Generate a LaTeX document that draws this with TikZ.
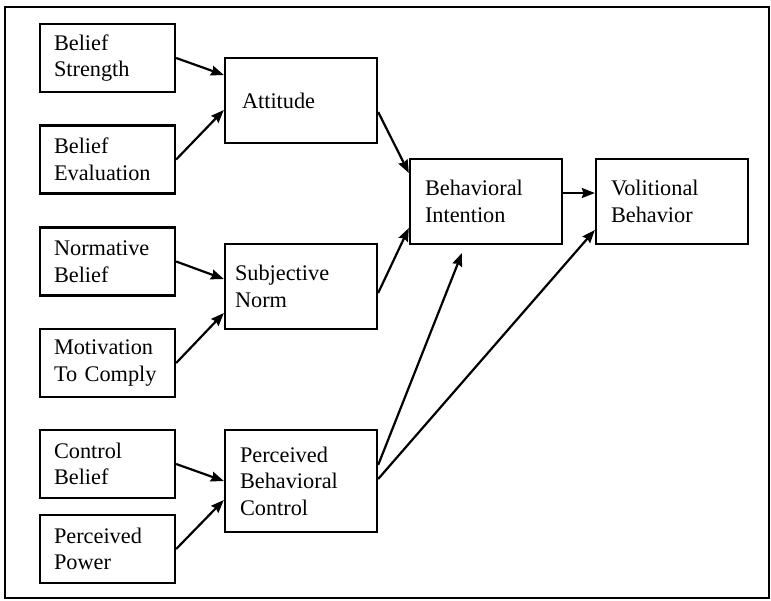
\documentclass[tikz,border=0pt]{standalone}
\usepackage{fontspec}
\setmainfont{Liberation Serif}
\usetikzlibrary{arrows.meta}
\begin{document}
\begin{tikzpicture}[x=1pt,y=-1pt,
  box/.style={draw, line width=2.3pt, align=left, inner xsep=14pt, inner ysep=0pt,
    font=\fontsize{22.3}{26.5}\selectfont},
  leftbox/.style={box, text width=107pt, minimum height=68pt},
  midbox/.style={box, text width=124pt},
  conn/.style={line width=2.2pt, -{Stealth[length=13pt,width=10pt,inset=1.5pt]}}]
  \useasboundingbox (0,0) rectangle (771,600);
  % outer frame
  \draw[line width=2.3pt] (5,7) rectangle (769,598);

  % antecedent boxes
  \node[leftbox] (bs) at (107.5,58)  {Belief\\Strength};
  \node[leftbox] (be) at (107.5,159.5) {Belief\\Evaluation};
  \node[leftbox] (nb) at (107.5,261.5) {Normative\\Belief};
  \node[leftbox] (mc) at (107.5,363) {Motivation\\To Comply};
  \node[leftbox] (cb) at (107.5,464) {Control\\Belief};
  \node[leftbox] (pp) at (107.5,549) {Perceived\\Power};

  % determinants
  \node[midbox, minimum height=85pt, inner xsep=17pt, text width=118pt] (att) at (301,100.5) {Attitude};
  \node[midbox, minimum height=85pt, inner xsep=10pt, text width=132pt] (sn) at (301,286.5) {Subjective\\Norm};
  \node[midbox, minimum height=102pt, inner xsep=15pt, text width=122pt] (pbc) at (301,481) {Perceived\\Behavioral\\Control};

  % intention and behaviour
  \node[midbox, minimum height=85pt, inner xsep=15pt, text width=122pt] (bi) at (486,201.5) {Behavioral\\Intention};
  \node[midbox, minimum height=85pt, inner xsep=15pt, text width=122pt] (vb) at (672,201.5) {Volitional\\Behavior};

  \coordinate (bitip) at (462,253);

  % connectors
  \draw[conn] (bs.east) -- ([yshift=25.5pt]att.west);
  \draw[conn] (be.east) -- ([yshift=-9.5pt]att.west);
  \draw[conn] (nb.east) -- ([yshift=7.5pt]sn.west);
  \draw[conn] (mc.east) -- ([yshift=-26.5pt]sn.west);
  \draw[conn] (cb.east) -- (pbc.west);
  \draw[conn] (pp.east) -- ([yshift=-19pt]pbc.west);
  \draw[conn] ([yshift=-11.5pt]att.east) -- ([yshift=28.5pt]bi.west);
  \draw[conn] ([yshift=-6.5pt]sn.east) -- ([yshift=-26.5pt]bi.west);
  \draw[conn] ([yshift=16pt]pbc.east) -- (bitip);
  \draw[conn] ([yshift=2pt]pbc.east) -- ([yshift=-28.5pt]vb.west);
  \draw[conn] ([yshift=8.5pt]bi.east) -- ([yshift=8.5pt]vb.west);
\end{tikzpicture}
\end{document}
